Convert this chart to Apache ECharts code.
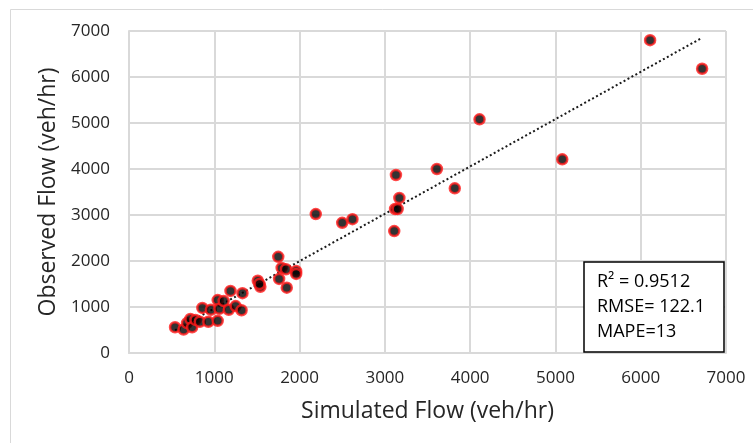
<!DOCTYPE html>
<html>
<head>
<meta charset="utf-8">
<script src="https://cdn.jsdelivr.net/npm/echarts@6/dist/echarts.min.js"></script>
<style>
  html, body { margin: 0; padding: 0; background: #fff; }
  #chart { width: 753px; height: 443px; }
</style>
</head>
<body>
<div id="chart"></div>
<script>
// simulated (x) vs observed (y) flow, veh/hr
const simulated = [540, 640, 680, 720, 740, 780, 830, 860, 930, 960, 1040, 1040, 1060, 1110, 1170, 1190, 1250, 1320, 1330,
  1510, 1540, 1530, 1750, 1760, 1790, 1840, 1850, 1960, 1960, 2190, 2500, 2620, 3110, 3120, 3150, 3170, 3130, 3610, 3820,
  4110, 5080, 6110, 6720];
const observed = [560, 510, 650, 740, 560, 720, 680, 980, 680, 940, 700, 1150, 960, 1130, 940, 1350, 1020, 930, 1300,
  1570, 1440, 1500, 2090, 1610, 1850, 1820, 1420, 1780, 1720, 3020, 2830, 2910, 2650, 3130, 3130, 3370, 3870, 4000, 3580,
  5080, 4210, 6800, 6180];
const axisTicks = [0, 1000, 2000, 3000, 4000, 5000, 6000, 7000];
const statsLines = ["R² = 0.9512", "RMSE= 122.1", "MAPE=13"];

const points = simulated.map((x, i) => [x, observed[i]]);

// linear trendline (least squares), drawn over the x range of the data
const n = simulated.length;
const mx = simulated.reduce((a, b) => a + b, 0) / n;
const my = observed.reduce((a, b) => a + b, 0) / n;
let sxy = 0, sxx = 0;
simulated.forEach((x, i) => { sxy += (x - mx) * (observed[i] - my); sxx += (x - mx) * (x - mx); });
const slope = sxy / sxx;
const intercept = my - slope * mx;
const xMin = Math.min(...simulated);
const xMax = Math.max(...simulated);
const trend = [[xMin, intercept + slope * xMin], [xMax, intercept + slope * xMax]];

const FONT = "Open Sans";
const gridColor = "#d9d9d9";
const textColor = "#262626";

const chart = echarts.init(document.getElementById("chart"));

const option = {
  animation: false,
  backgroundColor: "#fff",
  grid: { left: 129, right: 27, top: 31, bottom: 90 },
  xAxis: {
    type: "value",
    min: axisTicks[0],
    max: axisTicks[axisTicks.length - 1],
    interval: 1000,
    name: "Simulated Flow (veh/hr)",
    nameLocation: "middle",
    nameGap: 47,
    nameTextStyle: { fontFamily: FONT, fontSize: 23, color: textColor },
    axisLine: { show: true, lineStyle: { color: gridColor, width: 2 } },
    axisTick: { show: false },
    axisLabel: { margin: 17, fontFamily: FONT, fontSize: 17, color: textColor, formatter: (v) => String(v) },
    splitLine: { show: true, lineStyle: { color: gridColor, width: 2 } }
  },
  yAxis: {
    type: "value",
    min: axisTicks[0],
    max: axisTicks[axisTicks.length - 1],
    interval: 1000,
    name: "Observed Flow (veh/hr)",
    nameLocation: "middle",
    nameGap: 69,
    nameTextStyle: { fontFamily: FONT, fontSize: 23, color: textColor },
    axisLine: { show: true, lineStyle: { color: gridColor, width: 2 } },
    axisTick: { show: false },
    axisLabel: { margin: 19, fontFamily: FONT, fontSize: 17, color: textColor, formatter: (v) => String(v) },
    splitLine: { show: true, lineStyle: { color: gridColor, width: 2 } }
  },
  series: [
    {
      name: "Trendline",
      type: "line",
      data: trend,
      symbol: "none",
      lineStyle: { color: "#1a1a1a", width: 2, type: [2, 2.5] },
      z: 3
    },
    {
      name: "Flow",
      type: "scatter",
      data: points,
      symbol: "circle",
      symbolSize: 10,
      itemStyle: { color: "#000", borderColor: "#ff1a1a", borderWidth: 2.5 },
      z: 4
    }
  ],
  graphic: [
    {
      type: "rect",
      shape: { x: 10.5, y: 9.5, width: 800, height: 500 },
      style: { fill: null, stroke: "#d9d9d9", lineWidth: 1 },
      silent: true,
      z: -1
    },
    {
      type: "rect",
      shape: { x: 584, y: 262, width: 140, height: 90 },
      style: { fill: "#fff", stroke: "#000", lineWidth: 1.5 },
      z: 100
    },
    ...statsLines.map((t, i) => ({
      type: "text",
      x: 597,
      y: 282 + i * 25,
      z: 101,
      style: {
        text: t,
        fontFamily: FONT,
        fontSize: 18,
        fill: "#000",
        verticalAlign: "middle"
      }
    }))
  ]
};

chart.setOption(option);
</script>
</body>
</html>
